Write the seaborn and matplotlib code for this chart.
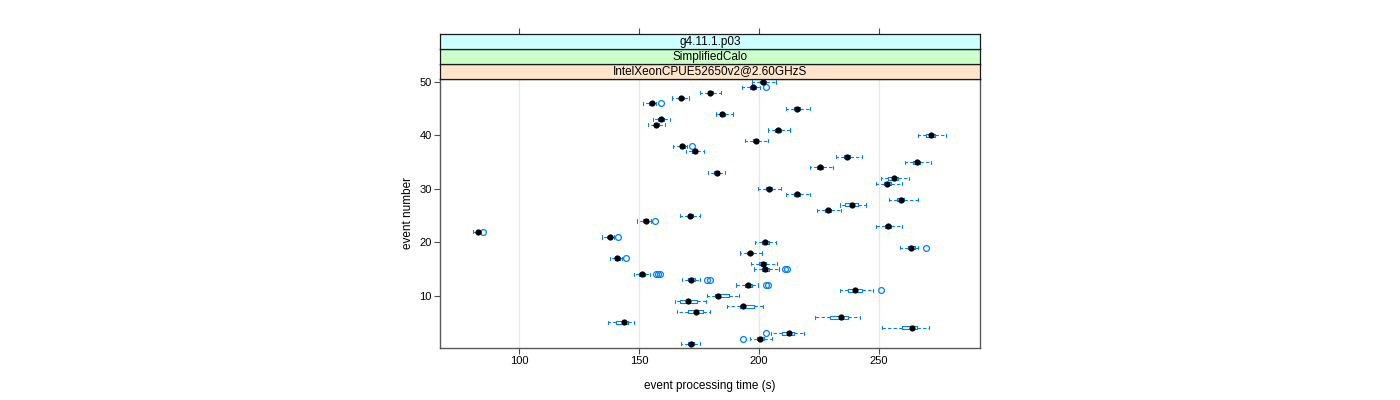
import numpy as np
import matplotlib
matplotlib.use('Agg')
import matplotlib.pyplot as plt
import seaborn as sns

sns.set_style("white")
plt.rcParams['font.family'] = ['Liberation Sans', 'DejaVu Sans']
plt.rcParams['text.color'] = 'black'
plt.rcParams['axes.labelcolor'] = 'black'
plt.rcParams['xtick.labelcolor'] = 'black'
plt.rcParams['ytick.labelcolor'] = 'black'

# per-event summary: whisker lo, q1, median, q3, whisker hi, outliers
events = list(range(1, 51))
wlo = [167.6, 196.0, 204.8, 251.3, 137.0, 223.4, 166.0, 186.6, 165.1, 178.4,
       233.8, 190.5, 168.0, 147.7, 197.8, 196.75, 138.0, 191.9, 258.5, 198.4,
       134.7, 81.0, 248.8, 149.1, 166.9, 224.1, 233.8, 254.0, 211.3, 199.7,
       248.5, 250.9, 178.8, 221.0, 260.6, 232.2, 169.4, 164.25, 194.25, 266.3,
       203.7, 153.8, 156.0, 182.2, 211.3, 151.75, 163.8, 175.5, 193.0, 197.0]
q1 = [170.5, 199.0, 209.7, 259.7, 140.5, 229.4, 170.2, 191.9, 166.9, 181.5,
      237.0, 194.0, 170.5, 150.0, 201.0, 200.0, 139.8, 195.0, 262.0, 201.3,
      136.8, 82.3, 252.5, 151.7, 170.2, 227.4, 235.6, 257.5, 214.5, 202.8,
      252.0, 253.5, 181.3, 224.3, 264.2, 235.5, 172.0, 167.0, 197.3, 269.7,
      206.8, 156.2, 158.0, 183.7, 214.6, 154.2, 166.5, 178.6, 196.3, 200.5]
med = [171.75, 200.5, 212.3, 263.5, 143.7, 234.0, 173.7, 193.25, 170.5, 183.0,
       239.8, 195.3, 171.75, 151.3, 202.6, 201.6, 140.9, 196.2, 263.4, 202.6,
       137.7, 83.0, 253.7, 152.7, 171.3, 228.7, 238.8, 259.0, 215.75, 204.0,
       253.4, 256.0, 182.4, 225.5, 265.75, 236.75, 173.1, 168.0, 198.5, 271.6,
       208.0, 157.2, 159.1, 184.7, 215.9, 155.2, 167.6, 179.7, 197.4, 201.6]
q3 = [173.0, 202.0, 214.4, 265.75, 145.3, 237.0, 176.5, 197.7, 174.0, 187.4,
      243.0, 196.9, 173.5, 152.5, 204.0, 203.0, 142.0, 197.5, 265.0, 204.0,
      138.8, 83.8, 255.0, 153.7, 172.5, 230.0, 241.2, 260.5, 217.0, 205.3,
      254.8, 257.7, 183.5, 226.7, 267.0, 238.0, 174.3, 169.0, 199.7, 273.1,
      209.2, 158.2, 160.2, 185.8, 217.2, 156.0, 168.7, 180.8, 198.5, 202.8]
whi = [175.5, 205.3, 218.7, 270.6, 148.1, 242.2, 179.4, 201.6, 177.7, 191.5,
       247.4, 199.4, 175.2, 154.4, 208.25, 207.4, 142.7, 201.2, 266.0, 207.2,
       139.4, 84.0, 259.7, 154.8, 175.2, 234.0, 244.7, 266.2, 221.0, 209.0,
       259.5, 262.4, 186.0, 230.75, 271.5, 242.8, 177.0, 169.8, 203.7, 278.0,
       212.7, 161.0, 162.7, 189.1, 221.3, 156.9, 171.0, 184.25, 200.2, 206.9]
outliers = {2: [193.25], 3: [202.7], 11: [250.9], 12: [202.7, 203.8],
            13: [178.1, 179.4], 14: [156.9, 157.8, 158.8], 15: [210.6, 211.75],
            17: [144.7], 19: [269.4], 21: [141.3], 22: [85.2], 24: [156.5],
            38: [172.0], 46: [159.25], 49: [203.0]}

strips = ["IntelXeonCPUE52650v2@2.60GHzS", "SimplifiedCalo", "g4.11.1.p03"]
strip_cols = ["#FFE5CC", "#CCFFCC", "#CCFFFF"]
xticks = [100, 150, 200, 250]
yticks = [10, 20, 30, 40, 50]
blue = "#0080FF"

fig = plt.figure(figsize=(14, 4), dpi=100)
ax = fig.add_axes([0.3143, 0.13125, 0.3857, 0.6725])

stats = []
for i, e in enumerate(events):
    stats.append(dict(whislo=wlo[i], q1=q1[i], med=med[i], q3=q3[i], whishi=whi[i],
                      fliers=outliers.get(e, [])))

for x in xticks:
    ax.axvline(x, color="#E8E8E8", lw=0.9, zorder=0)

ax.bxp(stats, positions=events, orientation='horizontal', widths=0.55,
       capwidths=0.6, showfliers=True, patch_artist=False,
       boxprops=dict(color=blue, lw=0.8),
       whiskerprops=dict(color=blue, lw=0.8, linestyle=(0, (3, 2))),
       capprops=dict(color=blue, lw=0.8),
       medianprops=dict(lw=0),
       flierprops=dict(marker='o', mfc='none', mec=blue, ms=4.2, mew=0.9))

sns.scatterplot(x=med, y=events, color="black", s=20, edgecolor="black",
                linewidth=0, zorder=5, ax=ax)

ax.set_xlim(67.1, 292)
ax.set_ylim(0.32, 50.65)
ax.set_xticks(xticks)
ax.set_yticks(yticks)
ax.set_yticklabels([str(t) for t in yticks])
ax.tick_params(axis='both', direction='out', length=4, width=0.8, color='0.3',
               labelsize=8, pad=2, left=True, bottom=True, right=False)
for s in ax.spines.values():
    s.set_color('0.35')
    s.set_linewidth(1.0)
ax.set_xlabel("event processing time (s)", fontsize=8.5, labelpad=10)
ax.set_ylabel("event number", fontsize=8.5, labelpad=4)

# strips above panel
h = 0.037
for k, (lab, col) in enumerate(zip(strips, strip_cols)):
    sax = fig.add_axes([0.3143, 0.80375 + k * h, 0.3857, h])
    sax.set_facecolor(col)
    sax.set_xlim(67.1, 292)
    sax.set_ylim(0, 1)
    sax.set_yticks([])
    if k == len(strips) - 1:
        sax.set_xticks(xticks)
        sax.tick_params(axis='x', bottom=False, top=True, labelbottom=False,
                        direction='out', length=4, width=0.8, color='0.3')
    else:
        sax.set_xticks([])
    for s in sax.spines.values():
        s.set_color('0.1')
        s.set_linewidth(0.9)
    sax.text(0.5, 0.48, lab, ha='center', va='center', fontsize=8.5,
             transform=sax.transAxes)

plt.savefig("out.png", dpi=100)
